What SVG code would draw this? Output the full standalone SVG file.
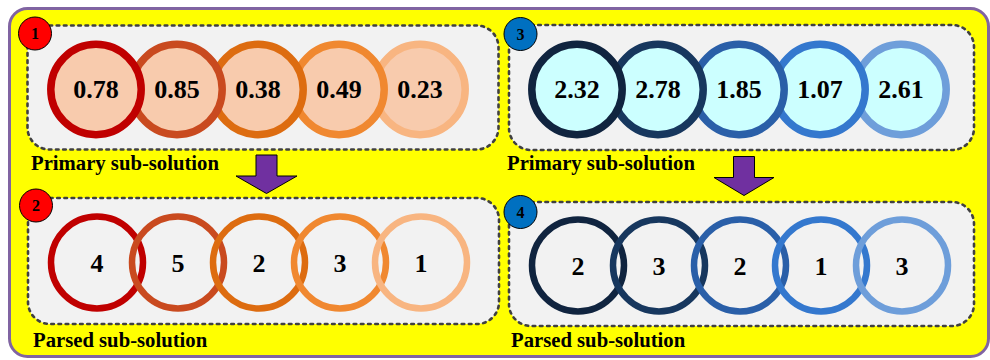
<svg xmlns="http://www.w3.org/2000/svg" width="990" height="360" viewBox="0 0 990 360">
  <style>
    .frame { fill: #FFFF00; stroke: #8064A2; stroke-width: 3; }
    .panel { fill: #F2F2F2; stroke: #404040; stroke-width: 2.6; stroke-dasharray: 2.6 4.6; stroke-linecap: round; }
    .badge-red { fill: #FF0000; stroke: #000; stroke-width: 1; }
    .badge-blue { fill: #0070C0; stroke: #000; stroke-width: 1; }
    .badge-num { font-family: "Liberation Serif", "Times New Roman", serif; font-weight: bold; font-size: 16px; fill: #000; text-anchor: middle; }
    .val { font-family: "Liberation Serif", "Times New Roman", serif; font-weight: bold; font-size: 26px; fill: #000; text-anchor: middle; }
    .caption { font-family: "Liberation Serif", "Times New Roman", serif; font-weight: bold; font-size: 20.7px; fill: #000; }
    .ring-top { stroke-width: 7.5; }
    .ring-low { fill: none; stroke-width: 6.5; }
    .warm { fill: #F8CBAD; }
    .cool { fill: #CCFFFF; }
    .arrow { fill: #7030A0; stroke: #000; stroke-width: 1; stroke-linejoin: miter; }
  </style>

  <!-- outer frame -->
  <rect class="frame" x="9.5" y="8.5" width="979" height="348" rx="18"/>

  <!-- panel 1: primary sub-solution (warm) -->
  <g id="panel1">
    <rect class="panel" x="27.5" y="25.5" width="471" height="124" rx="22"/>
    <g id="p1-c5"><circle class="warm ring-top" cx="420" cy="89.5" r="45.2" stroke="#F8B581"/><text class="val" x="420" y="98">0.23</text></g>
    <g id="p1-c4"><circle class="warm ring-top" cx="339" cy="89.5" r="45.2" stroke="#F08830"/><text class="val" x="339" y="98">0.49</text></g>
    <g id="p1-c3"><circle class="warm ring-top" cx="258" cy="89.5" r="45.2" stroke="#DD6C10"/><text class="val" x="258" y="98">0.38</text></g>
    <g id="p1-c2"><circle class="warm ring-top" cx="177" cy="89.5" r="45.2" stroke="#C94A1F"/><text class="val" x="177" y="98">0.85</text></g>
    <g id="p1-c1"><circle class="warm ring-top" cx="96" cy="89.5" r="45.2" stroke="#C00000"/><text class="val" x="96" y="98">0.78</text></g>
    <text class="caption" x="31" y="170">Primary sub-solution</text>
  </g>
  <g id="badge1"><circle class="badge-red" cx="35" cy="33.5" r="16.5"/><text class="badge-num" x="35" y="39">1</text></g>

  <!-- panel 2: parsed sub-solution (warm) -->
  <g id="panel2">
    <rect class="panel" x="28" y="198" width="471" height="126" rx="22"/>
    <g id="p2-c1"><circle class="ring-low" cx="97" cy="262.5" r="46" stroke="#C00000"/><text class="val" x="97" y="271.5">4</text></g>
    <g id="p2-c2"><circle class="ring-low" cx="178" cy="262.5" r="46" stroke="#C94A1F"/><text class="val" x="178" y="271.5">5</text></g>
    <g id="p2-c3"><circle class="ring-low" cx="259" cy="262.5" r="46" stroke="#DD6C10"/><text class="val" x="259" y="271.5">2</text></g>
    <g id="p2-c4"><circle class="ring-low" cx="340" cy="262.5" r="46" stroke="#F08830"/><text class="val" x="340" y="271.5">3</text></g>
    <g id="p2-c5"><circle class="ring-low" cx="421" cy="262.5" r="46" stroke="#F8B581"/><text class="val" x="421" y="271.5">1</text></g>
    <text class="caption" x="33" y="347">Parsed sub-solution</text>
  </g>
  <g id="badge2"><circle class="badge-red" cx="36" cy="205.5" r="16.5"/><text class="badge-num" x="36" y="211">2</text></g>

  <!-- panel 3: primary sub-solution (cool) -->
  <g id="panel3">
    <rect class="panel" x="509" y="25" width="465" height="125" rx="22"/>
    <g id="p3-c5"><circle class="cool ring-top" cx="901" cy="89.5" r="45.2" stroke="#6E9EDA"/><text class="val" x="901" y="98">2.61</text></g>
    <g id="p3-c4"><circle class="cool ring-top" cx="820" cy="89.5" r="45.2" stroke="#3478CE"/><text class="val" x="820" y="98">1.07</text></g>
    <g id="p3-c3"><circle class="cool ring-top" cx="739" cy="89.5" r="45.2" stroke="#2A5FA8"/><text class="val" x="739" y="98">1.85</text></g>
    <g id="p3-c2"><circle class="cool ring-top" cx="658" cy="89.5" r="45.2" stroke="#17375E"/><text class="val" x="658" y="98">2.78</text></g>
    <g id="p3-c1"><circle class="cool ring-top" cx="577" cy="89.5" r="45.2" stroke="#10243F"/><text class="val" x="577" y="98">2.32</text></g>
    <text class="caption" x="507" y="170">Primary sub-solution</text>
  </g>
  <g id="badge3"><circle class="badge-blue" cx="520.5" cy="34" r="16.5"/><text class="badge-num" x="520.5" y="39.5">3</text></g>

  <!-- panel 4: parsed sub-solution (cool) -->
  <g id="panel4">
    <rect class="panel" x="509" y="202" width="465" height="124" rx="22"/>
    <g id="p4-c1"><circle class="ring-low" cx="578" cy="265.5" r="46" stroke="#10243F"/><text class="val" x="578" y="274.5">2</text></g>
    <g id="p4-c2"><circle class="ring-low" cx="659" cy="265.5" r="46" stroke="#17375E"/><text class="val" x="659" y="274.5">3</text></g>
    <g id="p4-c3"><circle class="ring-low" cx="740" cy="265.5" r="46" stroke="#2A5FA8"/><text class="val" x="740" y="274.5">2</text></g>
    <g id="p4-c4"><circle class="ring-low" cx="821" cy="265.5" r="46" stroke="#3478CE"/><text class="val" x="821" y="274.5">1</text></g>
    <g id="p4-c5"><circle class="ring-low" cx="902" cy="265.5" r="46" stroke="#6E9EDA"/><text class="val" x="902" y="274.5">3</text></g>
    <text class="caption" x="511" y="347">Parsed sub-solution</text>
  </g>
  <g id="badge4"><circle class="badge-blue" cx="520.5" cy="212" r="16.5"/><text class="badge-num" x="520.5" y="217.5">4</text></g>

  <!-- connectors: block arrows from primary to parsed -->
  <g id="connectors">
    <polygon class="arrow" points="256,155 277,155 277,176 297,176 266.5,193.5 236,176 256,176"/>
    <polygon class="arrow" points="733.5,156.5 754.5,156.5 754.5,177.5 774,177.5 744,195.5 714,177.5 733.5,177.5"/>
  </g>
</svg>
